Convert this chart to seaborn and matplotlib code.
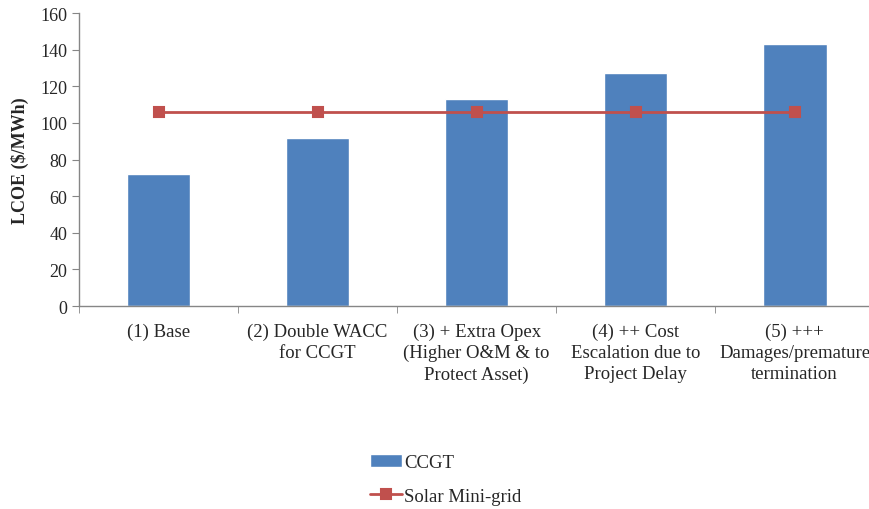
import matplotlib
matplotlib.use('Agg')
import matplotlib.pyplot as plt
import seaborn as sns

# data
categories = ['(1) Base',
              '(2) Double WACC\nfor CCGT',
              '(3) + Extra Opex\n(Higher O&M & to\nProtect Asset)',
              '(4) ++ Cost\nEscalation due to\nProject Delay',
              '(5) +++\nDamages/premature\ntermination']
ccgt = [72, 92, 113, 127, 143]
solar = [106, 106, 106, 106, 106]
y_ticks = [0, 20, 40, 60, 80, 100, 120, 140, 160]

sns.set_style('white')
plt.rcParams['font.family'] = ['Liberation Serif', 'DejaVu Serif']

fig = plt.figure(figsize=(8.69, 5.10), dpi=100)
ax = fig.add_axes([0.091, 0.398, 0.915, 0.5745])

sns.barplot(x=categories, y=ccgt, color='#4F81BD', saturation=1, width=0.4,
            label='CCGT', ax=ax)
sns.pointplot(x=categories, y=solar, color='#C0504D', markers='s',
              markersize=6.5, linewidth=2, label='Solar Mini-grid', ax=ax)

ax.set_xlim(-0.5, len(categories) - 0.5)
ax.set_ylim(0, 160)
ax.set_yticks(y_ticks)
ax.set_ylabel('LCOE ($/MWh)', fontsize=13, fontweight='bold', labelpad=8)
ax.set_xlabel('')

for s in ['top', 'right']:
    ax.spines[s].set_visible(False)
for s in ['left', 'bottom']:
    ax.spines[s].set_color('#868686')
    ax.spines[s].set_linewidth(1)

ax.tick_params(axis='y', labelsize=13, length=5, color='#868686', direction='out', left=True)
ax.tick_params(axis='x', which='major', labelsize=13.5, length=0, pad=12)
ax.set_xticks([i - 0.5 for i in range(len(categories) + 1)], minor=True)
ax.tick_params(axis='x', which='minor', length=5, color='#868686', direction='out', bottom=True)
for t in ax.get_xticklabels():
    t.set_linespacing(1.3)

# legend below the plot, CCGT first
handles, labels = ax.get_legend_handles_labels()
ax.get_legend().remove()
order = [labels.index('CCGT'), labels.index('Solar Mini-grid')]
fig.legend([handles[i] for i in order], [labels[i] for i in order],
           loc='upper left', bbox_to_anchor=(0.426, 0.108),
           frameon=False, fontsize=13.5, labelspacing=0.9, handlelength=1.7,
           handletextpad=0.1, borderpad=0, borderaxespad=0)

fig.savefig('out.png', dpi=100)
